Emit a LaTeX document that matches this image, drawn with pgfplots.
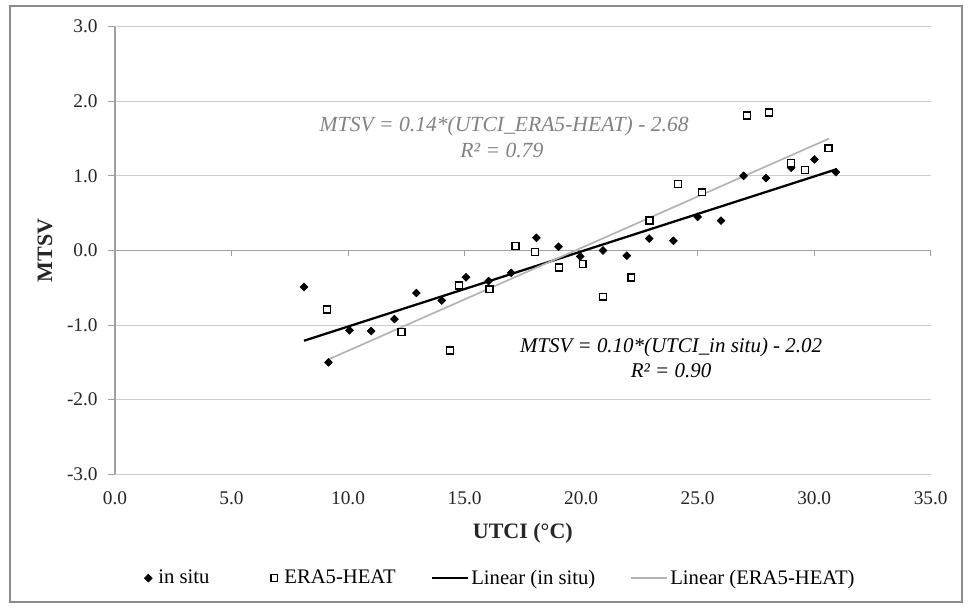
\documentclass[border=0pt]{standalone}
\usepackage{fontspec}
\setmainfont{Liberation Serif}
\usepackage{pgfplots}
\pgfplotsset{compat=1.18}
\pgfplotsset{
  longline/.style={legend image code/.code={\draw[##1] (0pt,0pt) -- (27pt,0pt);}},
  marklegend/.style={legend image code/.code={\draw[mark repeat=2,mark phase=2,##1] plot coordinates {(0pt,0pt) (5pt,0pt) (10pt,0pt)};}}
}
\definecolor{gridgray}{RGB}{205,205,205}
\definecolor{axisgray}{RGB}{160,160,160}
\definecolor{framegray}{RGB}{140,140,140}
\definecolor{trendgray}{RGB}{180,180,180}
\definecolor{textgray}{RGB}{130,130,130}
\begin{document}
\begin{tikzpicture}
\path[use as bounding box] (-86.25pt,-100.3pt) rectangle (639.75pt,355.7pt);
\draw[framegray, line width=0.9pt] (-78.75pt,-95.8pt) rectangle (635.25pt,351.2pt);
\begin{axis}[
  at={(0pt,0pt)}, anchor=south west, scale only axis,
  width=611.8pt, height=335.7pt,
  xmin=0, xmax=35, ymin=-3, ymax=3,
  axis x line*=bottom, axis y line*=left,
  x axis line style={draw=none},
  y axis line style={draw=axisgray, line width=0.8pt},
  xtick={0,5,...,35}, xticklabels={0.0,5.0,10.0,15.0,20.0,25.0,30.0,35.0},
  ytick={-3,...,3}, yticklabels={-3.0,-2.0,-1.0,0.0,1.0,2.0,3.0},
  x tick style={draw=none},
  y tick style={draw=axisgray, line width=0.8pt},
  tick align=outside, major tick length=5pt,
  ymajorgrids, grid style={draw=gridgray, line width=0.8pt},
  tick label style={font=\fontsize{14.5}{17}\selectfont, text=black!85},
  xticklabel style={yshift=-4.5pt},
  yticklabel style={xshift=-4.5pt},
  xlabel={UTCI (°C)}, ylabel={MTSV},
  label style={font=\fontsize{16.5}{20}\selectfont\bfseries, text=black!85},
  xlabel style={at={(axis description cs:0.5,-0.131)}, anchor=center},
  ylabel style={at={(axis description cs:-0.0858,0.5)}, anchor=center},
  legend columns=4,
  legend style={at={(0.473,-0.232)}, anchor=center, draw=none, fill=none,
    font=\fontsize{15.5}{18}\selectfont,
    /tikz/every even column/.append style={column sep=24pt}},
  clip=false,
]
\draw[axisgray, line width=0.8pt] (axis cs:0,0) -- (axis cs:35,0);
\pgfplotsinvokeforeach{5,10,15,20,25,30,35}{\draw[axisgray, line width=0.8pt] (axis cs:#1,0) -- ++(0pt,-4.5pt);}
\addplot[only marks, mark=square*, mark size=2.1pt, mark options={rotate=45, draw=black, fill=black}, marklegend] coordinates {
(8.11,-0.49) (9.16,-1.50) (10.06,-1.07) (10.99,-1.08) (11.99,-0.92) (12.93,-0.57)
(14.02,-0.67) (15.06,-0.36) (16.03,-0.41) (17.0,-0.30) (18.08,0.17) (19.03,0.05)
(19.96,-0.08) (20.94,0.0) (21.96,-0.07) (22.92,0.16) (23.96,0.13) (25.0,0.45)
(26.0,0.40) (26.97,1.0) (27.93,0.97) (29.01,1.11) (30.01,1.22) (30.93,1.05)
};
\addlegendentry{\rule{2.5pt}{0pt}in situ\rule{20pt}{0pt}}
\addplot[only marks, mark=square*, mark size=2.6pt, mark options={draw=black, fill=white, line width=1.1pt}, marklegend] coordinates {
(9.09,-0.79) (12.30,-1.09) (14.38,-1.34) (14.76,-0.47) (16.06,-0.52) (17.18,0.06)
(18.03,-0.02) (19.06,-0.23) (20.07,-0.18) (20.93,-0.62) (22.15,-0.36) (22.93,0.40)
(24.16,0.89) (25.19,0.78) (27.11,1.81) (28.06,1.85) (29.01,1.17) (29.61,1.08) (30.61,1.37)
};
\addlegendentry{\rule{3pt}{0pt}ERA5-HEAT}
\addplot[black, line width=1.7pt, longline] coordinates {(8.11,-1.21) (30.97,1.09)};
\addlegendentry{Linear (in situ)}
\addplot[trendgray, line width=1.3pt, longline] coordinates {(9.09,-1.47) (30.64,1.50)};
\addlegendentry{Linear (ERA5-HEAT)}
\node[textgray, anchor=base, font=\fontsize{16.2}{19}\selectfont\itshape] at (axis cs:16.70,1.595) {MTSV = 0.14*(UTCI\_ERA5-HEAT) - 2.68};
\node[textgray, anchor=base, font=\fontsize{16.2}{19}\selectfont\itshape] at (axis cs:16.60,1.252) {R² = 0.79};
\node[black, anchor=base, font=\fontsize{15.7}{18}\selectfont\itshape] at (axis cs:23.86,-1.372) {MTSV = 0.10*(UTCI\_in situ) - 2.02};
\node[black, anchor=base, font=\fontsize{15.7}{18}\selectfont\itshape] at (axis cs:23.86,-1.700) {R² = 0.90};
\end{axis}
\end{tikzpicture}
\end{document}
